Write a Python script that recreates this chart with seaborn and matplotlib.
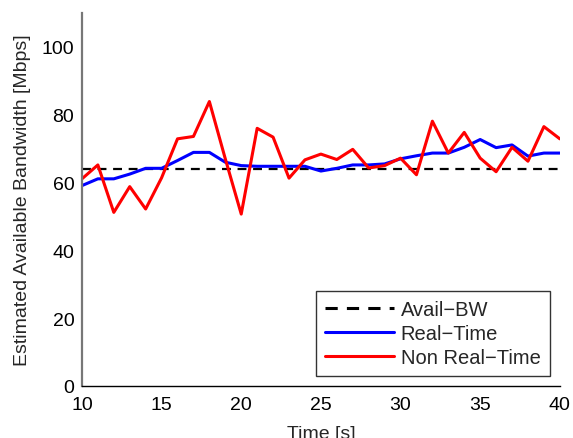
import numpy as np
import pandas as pd
import matplotlib
matplotlib.use("Agg")
import matplotlib.pyplot as plt
import seaborn as sns

# Measurement times (s)
time_s = list(range(10, 41))

# Available bandwidth reference (Mbps)
avail_bw = 64.0

# Real-time estimator output (Mbps)
real_time = [59.1, 61.1, 61.1, 62.5, 64.2, 64.2, 66.5, 68.9, 68.9, 66.0,
             65.0, 64.8, 64.8, 64.8, 64.8, 63.4, 64.2, 65.2, 65.2, 65.5,
             67.0, 67.9, 68.7, 68.7, 70.4, 72.7, 70.3, 71.1, 67.8, 68.7,
             68.7]

# Non real-time estimator output (Mbps)
non_real_time = [61.1, 65.2, 51.2, 58.8, 52.2, 61.4, 72.9, 73.6, 83.9, 67.0,
                 50.7, 76.0, 73.4, 61.3, 66.7, 68.4, 66.8, 69.8, 64.3, 65.0,
                 67.2, 62.3, 78.1, 68.7, 74.8, 67.2, 63.2, 70.4, 66.3, 76.5,
                 72.9]

sns.set_style("white")
plt.rcParams["font.family"] = ["Liberation Sans", "DejaVu Sans"]

FS = 14

df = pd.DataFrame({
    "Time": time_s * 3,
    "Bandwidth": [avail_bw] * len(time_s) + real_time + non_real_time,
    "Series": ["Avail\u2212BW"] * len(time_s) + ["Real\u2212Time"] * len(time_s)
              + ["Non Real\u2212Time"] * len(time_s),
})

fig = plt.figure(figsize=(5.73, 4.39), dpi=100)
ax = fig.add_axes([0.143, 0.1185, 0.834, 0.8495])

palette = {"Avail\u2212BW": "black", "Real\u2212Time": "#0000ff",
           "Non Real\u2212Time": "#ff0000"}
sns.lineplot(data=df, x="Time", y="Bandwidth", hue="Series", style="Series",
             palette=palette,
             dashes={"Avail\u2212BW": (4, 3), "Real\u2212Time": "",
                     "Non Real\u2212Time": ""},
             linewidth=2.2, ax=ax)
for line in ax.get_lines():
    if line.get_color() == "black":
        line.set_linewidth(1.6)

ax.set_xlim(10, 40)
ax.set_ylim(0, 110)
ax.set_xticks([10, 15, 20, 25, 30, 35, 40])
ax.set_yticks([0, 20, 40, 60, 80, 100])
ax.set_xlabel("Time [s]", fontsize=FS, labelpad=9)
ax.set_ylabel("Estimated Available Bandwidth [Mbps]", fontsize=FS, labelpad=8)
ax.tick_params(axis="x", direction="in", length=4, width=0.8,
               labelsize=FS, colors="black", pad=7)
ax.tick_params(axis="y", direction="in", length=4, width=0.8,
               labelsize=FS, colors="black", pad=5.5)

for side in ("top", "right"):
    ax.spines[side].set_visible(False)
ax.spines["left"].set_color("#777777")
ax.spines["left"].set_linewidth(1.6)
ax.spines["bottom"].set_color("black")
ax.spines["bottom"].set_linewidth(1.0)

leg = ax.legend(loc="lower right", fontsize=14.5, frameon=True, fancybox=False,
                handlelength=3.4, borderaxespad=0.5, labelspacing=0.25,
                handletextpad=0.35, borderpad=0.45)
leg.get_frame().set_edgecolor("black")
leg.get_frame().set_linewidth(1.0)
for h in leg.get_lines():
    h.set_linewidth(2.2)

fig.savefig("out.png", dpi=100)
